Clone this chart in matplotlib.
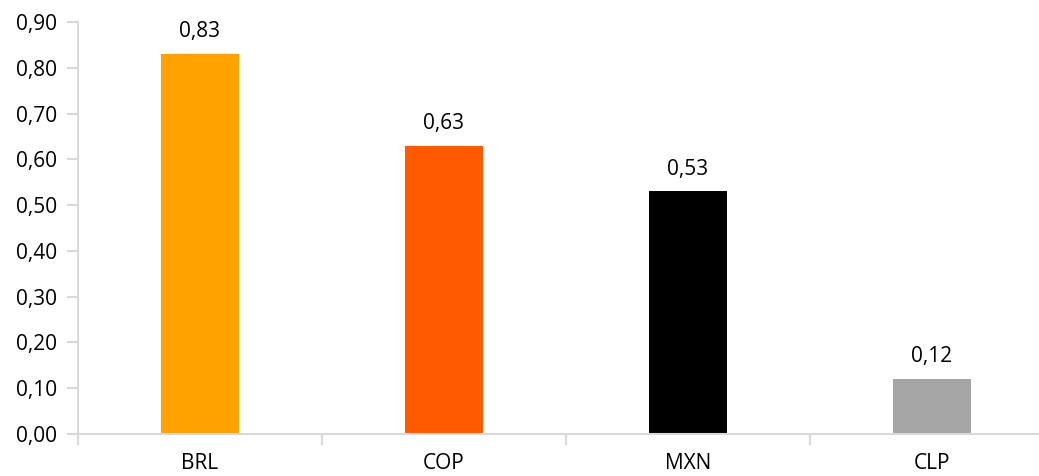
import matplotlib
matplotlib.use("Agg")
import matplotlib.pyplot as plt
from matplotlib.ticker import FixedLocator, FuncFormatter

categories = ["BRL", "COP", "MXN", "CLP"]
values = [0.83, 0.63, 0.53, 0.12]
colors = ["#FFA200", "#FF5A00", "#000000", "#A6A6A6"]
yticks = [0.0, 0.1, 0.2, 0.3, 0.4, 0.5, 0.6, 0.7, 0.8, 0.9]

plt.rcParams['font.family'] = ['Open Sans', 'DejaVu Sans']

fig = plt.figure(figsize=(10.39, 4.76), dpi=100)
ax = fig.add_axes([78/1039, 42/476, 976/1039, 412/476])
x = list(range(len(categories)))
bars = ax.bar(x, values, width=0.317, color=colors)
ax.set_xlim(-0.5, len(categories) - 0.5)
ax.set_ylim(0, 0.9)

fmt = lambda v: f"{v:.2f}".replace(".", ",")
for xi, v in zip(x, values):
    ax.annotate(fmt(v), (xi, v), xytext=(0, 8.5), textcoords="offset points",
                ha="center", va="bottom", fontsize=15, color="#000000")

ax.set_yticks(yticks)
ax.yaxis.set_major_formatter(FuncFormatter(lambda v, p: fmt(v)))
ax.set_xticks(x)
ax.set_xticklabels(categories)
ax.xaxis.set_minor_locator(FixedLocator([i - 0.5 for i in range(len(categories) + 1)]))

grey = "#D9D9D9"
for s in ["top", "right"]:
    ax.spines[s].set_visible(False)
for s in ["left", "bottom"]:
    ax.spines[s].set_color(grey)
    ax.spines[s].set_linewidth(1.5)
ax.tick_params(axis="y", length=8, width=1.5, color=grey, labelsize=15, pad=7)
ax.tick_params(axis="x", which="major", length=0, labelsize=15, pad=14)
ax.tick_params(axis="x", which="minor", length=8, width=1.5, color=grey)

fig.savefig("out.png", dpi=100)
